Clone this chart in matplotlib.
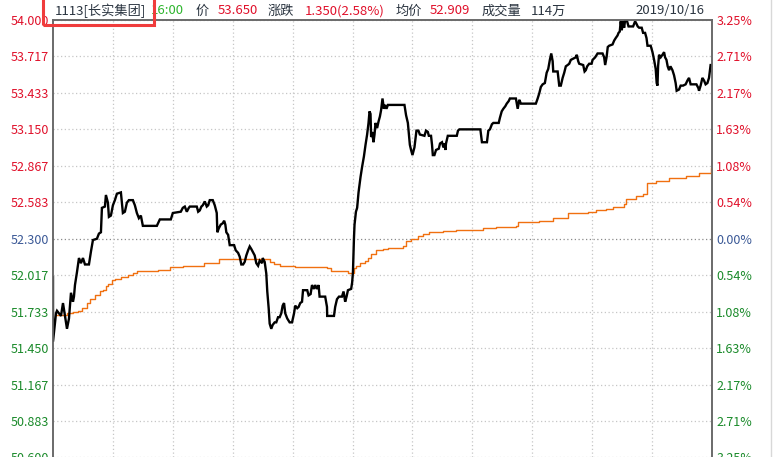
import matplotlib
matplotlib.use("Agg")
import matplotlib.pyplot as plt
import matplotlib.patches as patches
from matplotlib.lines import Line2D

plt.rcParams['font.family'] = ['Noto Sans CJK SC', 'DejaVu Sans']

# === DATOS ===
# minutos desde la apertura (09:30, 330 min en total) y precio
price_t = [0, 0, 1.5, 2, 4, 5, 6, 7, 8, 9, 10, 10.5, 11, 12, 13, 14, 15, 16, 18, 19, 20, 22, 23, 24,
           24.5, 26, 26.5, 27.5, 28, 29, 30, 31, 32, 34, 35, 36, 37, 38, 40, 41, 42, 43, 44, 45, 52,
           53.5, 59, 60, 64, 65, 66, 67, 68, 68.5, 72, 72.7, 73.5, 74.3, 75, 76, 77, 77.7, 78.5, 80,
           81, 82, 82.3, 83, 84, 85, 85.7, 86.3, 86.8, 87.7, 88.5, 90.7, 91.5, 92.7, 93.5, 94.3, 95.2,
           96, 96.8, 97.7, 98.5, 99.3, 100, 101, 101.8, 102.7, 103.5, 104.7, 105, 106, 106.8, 107.3,
           108, 108.5, 109.3, 110, 111, 111.8, 112.7, 113.5, 114.3, 115, 115.7, 116.3, 117.3, 118.5,
           119.7, 120.7, 121.3, 122.3, 123, 123.8, 124.7, 125.2, 127.3, 128, 129, 129.7, 130.7, 131.3,
           132.2, 133, 133.5, 136.3, 137.2, 137.3, 140.7, 141.3, 142.2, 143.2, 144.7, 145.5, 146.3,
           147, 147.7, 149.3, 149.8, 150.2, 150.7, 151, 151.7, 152.3, 153, 154, 154.8, 155.7, 156.5,
           157.3, 158, 158.5, 159, 159.3, 159.8, 160.5, 161, 161.5, 162.3, 163, 163.7, 164.3, 165,
           165.7, 166.3, 167, 167.7, 176, 176.8, 177.7, 178.2, 178.7, 179.3, 180, 181, 182, 183,
           183.7, 186, 186.8, 187.7, 188.2, 189.3, 189.8, 190.2, 191, 191.8, 193.2, 193.8, 194.8,
           195.5, 196, 196.5, 196.8, 197.7, 202.2, 202.8, 203.5, 214, 214.8, 217.3, 218, 218.8, 219.8,
           220.5, 223.2, 223.8, 224.7, 225.5, 226.5, 227.2, 228.2, 228.8, 231.8, 232.7, 233.5, 234.3,
           241.8, 242.7, 243.5, 244.3, 245.2, 246.3, 247.2, 248, 248.8, 249.5, 250.2, 250.5, 252.7,
           253.5, 254.3, 255.2, 256, 256.8, 257.7, 258.5, 259.3, 260.5, 261.8, 262.3, 263, 263.5,
           265.5, 266.2, 266.8, 267.5, 268.5, 269.7, 270.2, 271.5, 272.7, 275.2, 276, 276.5, 277.2,
           277.8, 278.5, 280.2, 281, 281.8, 282.7, 283.2, 283.8, 284.3, 284.8, 285.5, 286, 286.5,
           287.3, 288.2, 290.5, 291.5, 292.2, 292.8, 293.5, 294.8, 295.5, 296.5, 297.2, 297.7, 299.3,
           300.2, 301, 301.8, 302.3, 302.7, 303, 303.5, 304.3, 305.2, 306, 306.5, 307.2, 307.8, 308.5,
           309.2, 310.2, 311, 311.8, 312.3, 313.5, 314.3, 315.5, 316.8, 317.7, 318.5, 319.3, 322.2,
           323.2, 323.5, 324.3, 325.2, 326, 326.8, 327.7, 328.5, 329.3, 330]
price_v = [52.00, 51.50, 51.72, 51.74, 51.70, 51.80, 51.70, 51.60, 51.68, 51.88, 51.81, 51.85, 51.94,
           52.04, 52.15, 52.11, 52.15, 52.10, 52.10, 52.20, 52.29, 52.30, 52.34, 52.35, 52.54, 52.55,
           52.64, 52.58, 52.47, 52.48, 52.56, 52.60, 52.65, 52.66, 52.50, 52.51, 52.58, 52.60, 52.60,
           52.56, 52.50, 52.46, 52.48, 52.40, 52.40, 52.45, 52.45, 52.50, 52.51, 52.54, 52.55, 52.51,
           52.54, 52.55, 52.55, 52.51, 52.52, 52.55, 52.56, 52.59, 52.55, 52.56, 52.60, 52.60, 52.56,
           52.50, 52.35, 52.38, 52.41, 52.42, 52.44, 52.41, 52.35, 52.33, 52.25, 52.25, 52.21, 52.19,
           52.16, 52.10, 52.10, 52.12, 52.17, 52.21, 52.24, 52.22, 52.20, 52.17, 52.11, 52.09, 52.13,
           52.11, 52.15, 52.12, 52.03, 51.89, 51.76, 51.64, 51.60, 51.63, 51.65, 51.65, 51.69, 51.69,
           51.72, 51.78, 51.80, 51.72, 51.68, 51.65, 51.65, 51.72, 51.78, 51.76, 51.77, 51.80, 51.81,
           51.90, 51.90, 51.86, 51.87, 51.94, 51.91, 51.94, 51.91, 51.94, 51.85, 51.85, 51.77, 51.70,
           51.70, 51.77, 51.83, 51.85, 51.85, 51.89, 51.81, 51.85, 51.90, 51.91, 51.96, 52.04, 52.30,
           52.41, 52.51, 52.54, 52.66, 52.78, 52.86, 52.94, 53.03, 53.11, 53.20, 53.29, 53.27, 53.09,
           53.13, 53.05, 53.11, 53.20, 53.16, 53.21, 53.25, 53.30, 53.39, 53.31, 53.34, 53.31, 53.34,
           53.34, 53.26, 53.20, 53.11, 53.03, 52.99, 52.95, 53.01, 53.14, 53.14, 53.11, 53.10, 53.14,
           53.13, 53.10, 53.10, 53.03, 52.95, 52.95, 52.99, 53.00, 53.04, 53.05, 53.01, 53.04, 52.99,
           53.04, 53.10, 53.10, 53.14, 53.15, 53.15, 53.05, 53.05, 53.14, 53.15, 53.19, 53.20, 53.20,
           53.24, 53.29, 53.31, 53.33, 53.35, 53.37, 53.39, 53.39, 53.31, 53.38, 53.35, 53.35, 53.39,
           53.43, 53.48, 53.50, 53.51, 53.59, 53.62, 53.69, 53.74, 53.68, 53.60, 53.60, 53.49, 53.49,
           53.55, 53.59, 53.64, 53.65, 53.66, 53.69, 53.70, 53.71, 53.73, 53.68, 53.66, 53.65, 53.60,
           53.61, 53.64, 53.66, 53.66, 53.69, 53.71, 53.74, 53.74, 53.71, 53.65, 53.71, 53.79, 53.80,
           53.81, 53.84, 53.86, 53.88, 53.90, 53.91, 53.99, 53.92, 53.99, 53.94, 54.00, 54.00, 53.95,
           53.95, 53.99, 53.97, 53.95, 53.94, 53.94, 53.90, 53.90, 53.86, 53.80, 53.80, 53.75, 53.69,
           53.62, 53.51, 53.49, 53.64, 53.73, 53.71, 53.73, 53.75, 53.71, 53.69, 53.64, 53.61, 53.64,
           53.61, 53.57, 53.51, 53.45, 53.46, 53.49, 53.49, 53.50, 53.53, 53.55, 53.50, 53.50, 53.47,
           53.45, 53.49, 53.55, 53.53, 53.50, 53.51, 53.55, 53.65, 53.65]

avg_t = [1.5, 7, 10.2, 12.7, 14.3, 16.8, 18.5, 21, 23.5, 25.2, 26.5, 27.7, 29.3, 31, 34.3, 37.5, 40,
         42, 46.8, 52.7, 58.5, 65, 72.7, 75.7, 81.5, 83.2, 107, 108.8, 110.5, 113, 113.8, 120.5,
         121.3, 136.3, 137.2, 139.2, 143.5, 147.7, 149.8, 150.5, 151.8, 153.5, 156, 157.7, 159.3,
         161.8, 165.2, 167.7, 175.2, 176.8, 179.3, 182.7, 185.2, 188.5, 195.2, 201.8, 209.3, 215.2,
         221.8, 231.8, 233, 240.2, 243.5, 250.2, 257.7, 263.5, 267.7, 271.8, 276.8, 280.2, 286,
         286.8, 291.8, 295.2, 296.8, 297.7, 301.8, 308.5, 316.8, 323.5, 328.5, 329.3, 330]
avg_v = [51.71, 51.72, 51.73, 51.74, 51.76, 51.80, 51.83, 51.86, 51.89, 51.90, 51.93, 51.95, 51.98,
         51.99, 52.00, 52.02, 52.03, 52.05, 52.05, 52.06, 52.08, 52.09, 52.09, 52.11, 52.11, 52.14,
         52.14, 52.12, 52.10, 52.10, 52.09, 52.09, 52.08, 52.08, 52.07, 52.05, 52.05, 52.03, 52.03,
         52.07, 52.09, 52.11, 52.13, 52.15, 52.18, 52.21, 52.22, 52.23, 52.24, 52.28, 52.30, 52.32,
         52.34, 52.35, 52.36, 52.37, 52.37, 52.38, 52.39, 52.40, 52.43, 52.43, 52.44, 52.46, 52.50,
         52.50, 52.51, 52.52, 52.53, 52.55, 52.57, 52.61, 52.63, 52.65, 52.65, 52.73, 52.75, 52.77,
         52.79, 52.81, 52.81, 52.85, 52.89]

price_ticks = [54.000, 53.717, 53.433, 53.150, 52.867, 52.583, 52.300,
               52.017, 51.733, 51.450, 51.167, 50.883, 50.600]
price_labels = ["54.000", "53.717", "53.433", "53.150", "52.867", "52.583", "52.300",
                "52.017", "51.733", "51.450", "51.167", "50.883", "50.600"]
pct_labels = ["3.25%", "2.71%", "2.17%", "1.63%", "1.08%", "0.54%", "0.00%",
              "0.54%", "1.08%", "1.63%", "2.17%", "2.71%", "3.25%"]
time_grid = [30, 60, 90, 120, 150, 180, 210, 240, 270, 300]
prev_close = 52.300

header = [("1113[长实集团]", '#2a3440'), ("16:00", '#2db52d'), ("价", '#2a3440'),
          ("53.650", '#e0102a'), ("涨跌", '#2a3440'), ("1.350(2.58%)", '#e0102a'),
          ("均价", '#2a3440'), ("52.909", '#e0102a'), ("成交量", '#2a3440'),
          ("114万", '#2a3440'), ("2019/10/16", '#2a3440')]
header_x = [55, 151, 196, 218, 268, 305, 396, 430, 482, 531, 635]

RED, MID, GREEN = '#e0102a', '#3a5896', '#1a8a2a'

W, H = 776, 457
fig = plt.figure(figsize=(W / 100, H / 100), dpi=100, facecolor='white')
ax = fig.add_axes([53 / W, -0.001, (712 - 53) / W, 1 - 20 / H + 0.001])
ax.set_facecolor('white')

ax.set_xlim(0, 330)
ax.set_ylim(50.600, 54.000)

# rejilla punteada
for v in price_ticks:
    c = '#8a8a8a' if v == prev_close else '#c6c6c6'
    ax.axhline(v, color=c, lw=0.9, ls=(0, (1, 2)), zorder=1)
for t in time_grid:
    ax.axvline(t, color='#c6c6c6', lw=0.9, ls=(0, (1, 2)), zorder=1)

ax.plot(avg_t, avg_v, color='#f07010', lw=1.0, zorder=3, drawstyle='steps-post')
ax.plot(price_t, price_v, color='black', lw=1.7, zorder=4, solid_joinstyle='miter')

def lab_color(v):
    if abs(v - prev_close) < 1e-6:
        return MID
    return RED if v > prev_close else GREEN

ax.set_yticks(price_ticks)
ax.set_yticklabels(price_labels, fontsize=9)
ax.tick_params(axis='y', length=0, pad=3)
for tl, v in zip(ax.get_yticklabels(), price_ticks):
    tl.set_color(lab_color(v))
ax.set_xticks([])

ax2 = ax.twinx()
ax2.set_ylim(ax.get_ylim())
ax2.set_yticks(price_ticks)
ax2.set_yticklabels(pct_labels, fontsize=9)
ax2.tick_params(axis='y', length=0, pad=3)
for tl, v in zip(ax2.get_yticklabels(), price_ticks):
    tl.set_color(lab_color(v))

for a in (ax, ax2):
    a.spines['bottom'].set_visible(False)
    for s in ('left', 'right', 'top'):
        a.spines[s].set_color('#6a6a6a')
        a.spines[s].set_linewidth(1.2)

# cabecera
for (txt, col), x in zip(header, header_x):
    fig.text(x / W, 1 - 11 / H, txt, color=col, fontsize=9.5, ha='left', va='center')

# recuadro rojo
box = patches.Rectangle((43 / W, 1 - 25 / H), (154 - 43) / W, 30 / H, transform=fig.transFigure,
                        fill=False, edgecolor='#f03c3c', linewidth=2.2, zorder=10)
fig.add_artist(box)

fig.add_artist(Line2D([771 / W, 771 / W], [0, 1], transform=fig.transFigure, color='#d8d8d8', lw=1))

plt.savefig('out.png', dpi=100, facecolor='white')
plt.close()
